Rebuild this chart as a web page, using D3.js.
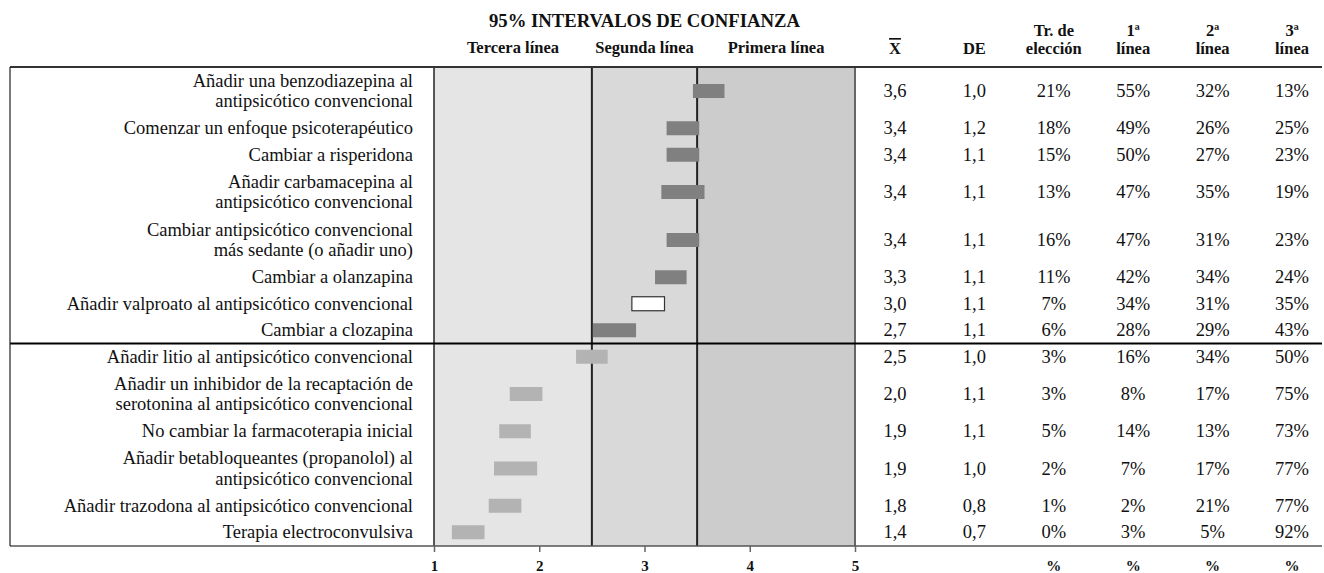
<!DOCTYPE html>
<html>
<head>
<meta charset="utf-8">
<script src="https://cdn.jsdelivr.net/npm/d3@7"></script>
<style>
  body { margin: 0; background: #fff; }
  svg { display: block; font-family: "Liberation Serif", "Times New Roman", serif; }
</style>
</head>
<body>
<svg id="chart" width="1324" height="573"></svg>
<script>
// treatment options (each entry = label lines)
const rowLabels = [
  ["Añadir una benzodiazepina al", "antipsicótico convencional"],
  ["Comenzar un enfoque psicoterapéutico"],
  ["Cambiar a risperidona"],
  ["Añadir carbamacepina al", "antipsicótico convencional"],
  ["Cambiar antipsicótico convencional", "más sedante (o añadir uno)"],
  ["Cambiar a olanzapina"],
  ["Añadir valproato al antipsicótico convencional"],
  ["Cambiar a clozapina"],
  ["Añadir litio al antipsicótico convencional"],
  ["Añadir un inhibidor de la recaptación de", "serotonina al antipsicótico convencional"],
  ["No cambiar la farmacoterapia inicial"],
  ["Añadir betabloqueantes (propanolol) al", "antipsicótico convencional"],
  ["Añadir trazodona al antipsicótico convencional"],
  ["Terapia electroconvulsiva"]
];

// 95% confidence intervals
const ciLow  = [3.46, 3.21, 3.21, 3.16, 3.21, 3.10, 2.88, 2.51, 2.35, 1.72, 1.62, 1.57, 1.52, 1.17];
const ciHigh = [3.76, 3.52, 3.52, 3.57, 3.52, 3.40, 3.19, 2.92, 2.65, 2.03, 1.92, 1.98, 1.83, 1.48];

// table values
const means    = [3.6, 3.4, 3.4, 3.4, 3.4, 3.3, 3.0, 2.7, 2.5, 2.0, 1.9, 1.9, 1.8, 1.4];
const sds      = [1.0, 1.2, 1.1, 1.1, 1.1, 1.1, 1.1, 1.1, 1.0, 1.1, 1.1, 1.0, 0.8, 0.7];
const eleccion = [21, 18, 15, 13, 16, 11, 7, 6, 3, 3, 5, 2, 1, 0];
const primera  = [55, 49, 50, 47, 47, 42, 34, 28, 16, 8, 14, 7, 2, 3];
const segunda  = [32, 26, 27, 35, 31, 34, 31, 29, 34, 17, 13, 17, 21, 5];
const tercera  = [13, 25, 23, 19, 23, 24, 35, 43, 50, 75, 73, 77, 77, 92];

// rating group of each option; "sin" = no consensus
const grupo = ["segunda", "segunda", "segunda", "segunda", "segunda", "segunda", "sin", "segunda",
               "tercera", "tercera", "tercera", "tercera", "tercera", "tercera"];

const zoneBreaks = [1, 2.5, 3.5, 5];
const zoneNames = ["Tercera línea", "Segunda línea", "Primera línea"];
const axisTicks = [1, 2, 3, 4, 5];

const svg = d3.select("#chart");
const locale = d3.formatLocale({ decimal: ",", thousands: ".", grouping: [3], currency: ["", ""] });
const fmt1 = locale.format(".1f");

const yTop = 67, yBottom = 546, xLeft = 10, xRight = 1322;
const h1 = 26.5, h2 = 48;
const bodySize = 18.5;

// row layout: height depends on number of label lines
let acc = yTop;
const rows = rowLabels.map((lines, i) => {
  const h = lines.length > 1 ? h2 : h1;
  const r = { i, y0: acc, y1: acc + h, yc: acc + h / 2 };
  acc += h;
  return r;
});

const x = d3.scaleLinear().domain([1, 5]).range([434, 855]);

// table columns
const cols = ["media", "de", "eleccion", "primera", "segunda", "tercera"];
const cx = d3.scalePoint().domain(cols).range([895, 1292]);

const fill = d3.scaleOrdinal().domain(["segunda", "tercera", "sin"]).range(["#808080", "#b3b3b3", "#ffffff"]);
const zoneFill = ["#e5e5e5", "#d9d9d9", "#cccccc"];

// zone backgrounds
svg.append("g").selectAll("rect")
  .data(zoneNames)
  .join("rect")
  .attr("x", (d, i) => x(zoneBreaks[i]))
  .attr("y", yTop)
  .attr("width", (d, i) => x(zoneBreaks[i + 1]) - x(zoneBreaks[i]))
  .attr("height", yBottom - yTop)
  .attr("fill", (d, i) => zoneFill[i]);

// zone borders
svg.append("g").selectAll("line")
  .data(zoneBreaks)
  .join("line")
  .attr("x1", d => x(d)).attr("x2", d => x(d))
  .attr("y1", yTop).attr("y2", yBottom)
  .attr("stroke", (d, i) => i === 3 ? "#666" : "#222")
  .attr("stroke-width", (d, i) => i === 0 ? 1.5 : 2);

// CI bars
svg.append("g").selectAll("rect")
  .data(rows)
  .join("rect")
  .attr("x", d => x(ciLow[d.i]))
  .attr("y", d => d.yc - 7)
  .attr("width", d => x(ciHigh[d.i]) - x(ciLow[d.i]))
  .attr("height", 14)
  .attr("fill", d => fill(grupo[d.i]))
  .attr("stroke", d => grupo[d.i] === "sin" ? "#333" : "none")
  .attr("stroke-width", 1.2);

// row labels
const lab = svg.append("g").selectAll("text")
  .data(rows)
  .join("text")
  .attr("text-anchor", "end")
  .attr("font-size", bodySize)
  .attr("fill", "#111");
lab.each(function(d) {
  const lines = rowLabels[d.i];
  const t = d3.select(this);
  lines.forEach((s, k) => {
    t.append("tspan")
      .attr("x", 413)
      .attr("y", d.yc + (k - (lines.length - 1) / 2) * 20.5 + 6)
      .text(s);
  });
});

// table values
const cells = [
  ["media", i => fmt1(means[i])],
  ["de", i => fmt1(sds[i])],
  ["eleccion", i => eleccion[i] + "%"],
  ["primera", i => primera[i] + "%"],
  ["segunda", i => segunda[i] + "%"],
  ["tercera", i => tercera[i] + "%"]
];
cells.forEach(([c, f]) => {
  svg.append("g").selectAll("text")
    .data(rows)
    .join("text")
    .attr("x", cx(c))
    .attr("y", d => d.yc + 6)
    .attr("text-anchor", "middle")
    .attr("font-size", bodySize)
    .attr("fill", "#111")
    .text(d => f(d.i));
});

// horizontal rules
const groupEnd = rows[grupo.lastIndexOf("sin") + 1].y1;
svg.append("line").attr("x1", xLeft).attr("x2", xRight).attr("y1", yTop).attr("y2", yTop)
  .attr("stroke", "#333").attr("stroke-width", 2);
svg.append("line").attr("x1", xLeft).attr("x2", xRight).attr("y1", groupEnd).attr("y2", groupEnd)
  .attr("stroke", "#000").attr("stroke-width", 2);
svg.append("line").attr("x1", xLeft).attr("x2", xRight).attr("y1", yBottom).attr("y2", yBottom)
  .attr("stroke", "#555").attr("stroke-width", 1.5);
svg.append("line").attr("x1", xLeft).attr("x2", xLeft).attr("y1", yTop).attr("y2", yBottom)
  .attr("stroke", "#222").attr("stroke-width", 1.2);

// header
svg.append("text")
  .attr("x", (x(1) + x(5)) / 2).attr("y", 27)
  .attr("text-anchor", "middle").attr("font-weight", "bold").attr("font-size", 18.7)
  .attr("fill", "#111")
  .text("95% INTERVALOS DE CONFIANZA");

svg.append("g").selectAll("text")
  .data(zoneNames)
  .join("text")
  .attr("x", (d, i) => (x(zoneBreaks[i]) + x(zoneBreaks[i + 1])) / 2)
  .attr("y", 53)
  .attr("text-anchor", "middle").attr("font-weight", "bold").attr("font-size", 16.5)
  .attr("fill", "#111")
  .text(d => d);

const colHeads = {
  media: ["X"], de: ["DE"], eleccion: ["Tr. de", "elección"],
  primera: ["1ª", "línea"], segunda: ["2ª", "línea"], tercera: ["3ª", "línea"]
};
cols.forEach(c => {
  const lines = colHeads[c];
  const t = svg.append("text")
    .attr("text-anchor", "middle").attr("font-weight", "bold").attr("font-size", 16.5)
    .attr("fill", "#111");
  lines.forEach((s, k) => {
    t.append("tspan")
      .attr("x", cx(c))
      .attr("y", 54 - (lines.length - 1 - k) * 18)
      .text(s);
  });
  if (c === "media") t.style("text-decoration", "overline");
});

// bottom axis
const axis = svg.append("g")
  .attr("transform", `translate(0,${yBottom})`)
  .call(d3.axisBottom(x).tickValues(axisTicks).tickFormat(d3.format("d")).tickSize(6).tickPadding(8));
axis.select(".domain").remove();
axis.selectAll(".tick line").attr("stroke", "#666").attr("stroke-width", 1.5);
axis.selectAll(".tick text")
  .attr("font-family", "Liberation Serif, serif")
  .attr("font-size", 15).attr("font-weight", "bold").attr("fill", "#111");

svg.append("g").selectAll("text")
  .data(["eleccion", "primera", "segunda", "tercera"])
  .join("text")
  .attr("x", d => cx(d)).attr("y", 571)
  .attr("text-anchor", "middle").attr("font-weight", "bold").attr("font-size", 15)
  .attr("fill", "#111")
  .text("%");
</script>
</body>
</html>
